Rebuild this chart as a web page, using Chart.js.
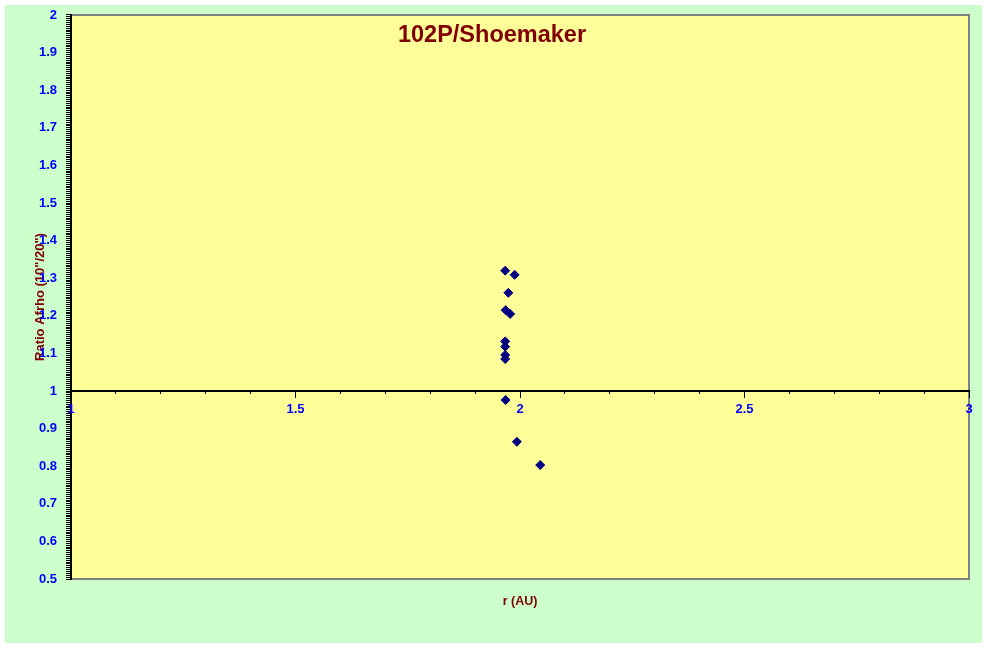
<!DOCTYPE html>
<html>
<head>
<meta charset="utf-8">
<title>102P/Shoemaker</title>
<script src="https://cdn.jsdelivr.net/npm/chart.js@4.4.0/dist/chart.umd.min.js"></script>
<style>
    html, body { margin: 0; padding: 0; background: #ffffff; }
    #box {
        position: absolute;
        left: 5px;
        top: 5px;
        width: 977px;
        height: 638px;
        background: #CCFFCC;
    }
</style>
</head>
<body>
<div id="box"><canvas id="chart"></canvas></div>
<script>
// Данные: гелиоцентрическое расстояние r (AU) и отношение Afrho (10"/20")
const rValues = [1.967, 1.988, 1.974, 1.968, 1.978, 1.967, 1.967, 1.967, 1.967, 1.968, 1.993, 2.045];
const ratioValues = [1.320, 1.309, 1.261, 1.215, 1.205, 1.132, 1.118, 1.096, 1.085, 0.976, 0.865, 0.803];

// Оси
const xRange = [1, 3];
const xMajorStep = 0.5;
const xMinorStep = 0.1;
const yRange = [0.5, 2];
const yLabelStep = 0.1;
const yMinorStep = 0.005;

const chartTitle = '102P/Shoemaker';
const xTitle = 'r (AU)';
const yTitle = 'Ratio Afrho (10"/20")';

Chart.defaults.font.family = '"Liberation Sans", Arial, sans-serif';

const tickFont = { size: 13, weight: 'bold' };
const titleFont = { size: 13, weight: 'bold' };

// Жёлтый фон области построения и серая рамка
const plotBackground = {
    id: 'plotBackground',
    beforeDraw(chart) {
        const { ctx, chartArea: a } = chart;
        ctx.save();
        ctx.fillStyle = '#FFFF99';
        ctx.fillRect(a.left, a.top, a.width, a.height);
        ctx.strokeStyle = '#808080';
        ctx.lineWidth = 2;
        ctx.strokeRect(a.left, a.top, a.width, a.height);
        ctx.restore();
    }
};

const points = rValues.map((r, i) => ({ x: r, y: ratioValues[i] }));

new Chart(document.getElementById('chart'), {
    type: 'scatter',
    data: {
        datasets: [{
            data: points,
            xAxisID: 'x',
            yAxisID: 'y',
            pointStyle: 'rectRot',
            pointRadius: 4.5,
            borderWidth: 1,
            backgroundColor: '#000080',
            borderColor: '#000080'
        }]
    },
    options: {
        responsive: true,
        maintainAspectRatio: false,
        animation: false,
        layout: { padding: { left: 10, top: 0, right: 13, bottom: 0 } },
        plugins: {
            legend: { display: false },
            tooltip: { enabled: false },
            title: {
                display: true,
                text: chartTitle,
                color: '#800000',
                font: { size: 23.5, weight: 'bold', lineHeight: 1.2 },
                padding: { top: 16.5, bottom: -34.7 }
            }
        },
        scales: {
            y: {
                min: yRange[0],
                max: yRange[1],
                position: 'left',
                afterFit: (s) => {
                    s.width = 56;
                    s.paddingTop = 0;
                    s.paddingBottom = 0;
                },
                border: { display: true, color: '#000000', width: 2 },
                grid: { drawOnChartArea: false, drawTicks: true, tickLength: 5, color: '#000000', tickColor: '#000000', lineWidth: 1 },
                ticks: {
                    stepSize: yMinorStep,
                    autoSkip: false,
                    padding: 9,
                    color: '#0000FF',
                    font: tickFont,
                    callback: (v) => {
                        const t = Math.round(v / yLabelStep);
                        return Math.abs(v / yLabelStep - t) < 1e-6 ? String(Number((t * yLabelStep).toFixed(1))) : '';
                    }
                },
                title: {
                    display: true,
                    text: yTitle,
                    color: '#800000',
                    font: titleFont,
                    padding: { top: 18, bottom: 0 }
                }
            },
            x: {
                type: 'linear',
                axis: 'x',
                min: xRange[0],
                max: xRange[1],
                position: { y: 1 },
                border: { display: true, color: '#000000', width: 2 },
                grid: { drawOnChartArea: false, drawTicks: true, tickLength: 6, color: '#000000', tickColor: '#000000', lineWidth: 1 },
                ticks: {
                    stepSize: xMajorStep,
                    padding: 5,
                    color: '#0000FF',
                    font: tickFont,
                    maxRotation: 0,
                    callback: (v) => String(v)
                }
            },
            x2: {
                type: 'linear',
                axis: 'x',
                min: xRange[0],
                max: xRange[1],
                position: { y: 1 },
                border: { display: false },
                grid: { drawOnChartArea: false, drawTicks: true, tickLength: 3, color: '#000000', tickColor: '#000000', lineWidth: 1 },
                ticks: { display: false, stepSize: xMinorStep }
            },
            xTitle: {
                type: 'linear',
                axis: 'x',
                min: xRange[0],
                max: xRange[1],
                position: 'bottom',
                afterFit: (s) => { s.height = 64; },
                border: { display: false },
                grid: { display: false, drawTicks: false },
                ticks: { display: false },
                title: {
                    display: true,
                    text: xTitle,
                    color: '#800000',
                    font: { size: 12.5, weight: 'bold' },
                    padding: { top: 15, bottom: 33.5 }
                }
            }
        }
    },
    plugins: [plotBackground]
});
</script>
</body>
</html>
